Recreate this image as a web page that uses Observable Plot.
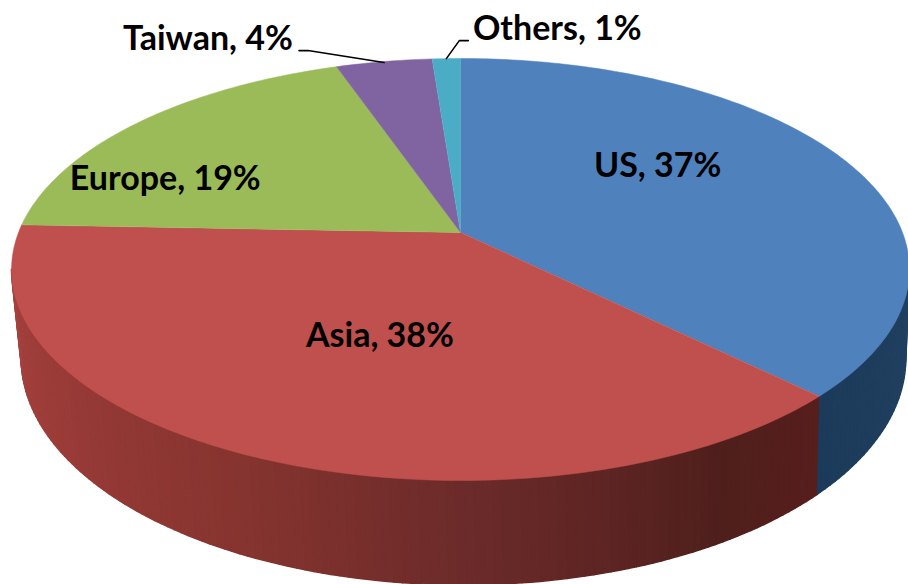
<!DOCTYPE html>
<html>
<head>
<meta charset="utf-8">
<script src="https://cdn.jsdelivr.net/npm/d3@7"></script>
<script src="https://cdn.jsdelivr.net/npm/@observablehq/plot@0.6"></script>
<style>html,body{margin:0;padding:0;background:#fff}svg{display:block}</style>
</head>
<body>
<div id="chart"></div>
<script>
// Data
const categories = ["US", "Asia", "Europe", "Taiwan", "Others"];
const shares = [37.4, 38.2, 19.1, 4.1, 1.2];

// Styles
const topColors = ["#4f81bd", "#c0504d", "#9bbb59", "#8064a2", "#4bacc6"];
const sideStops = {
  US: {a: [95, 135], c: ["#234263", "#1c3a5a"]},
  Asia: {a: [135, 150, 165, 180, 205, 235, 265], c: ["#571e1c", "#4f1f1c", "#5e2523", "#6c2b2a", "#86342f", "#9a3b38", "#a84340"]}
};

// Projection of the tilted disc (perspective), in units of the pie radius
const W = 908, H = 584, R = 442, k = 0.1753, tilt = 0.4627, depth = 86 / R, shrink = 0.985, baseShift = 3 / R;
const rad = d => d * Math.PI / 180;
function rim(deg, r = 1) {
  const u = r * Math.sin(rad(deg)), v = -r * Math.cos(rad(deg)), d = 1 - k * v;
  return [u / d, tilt * v / d];
}
function base(deg) {
  const v = -Math.cos(rad(deg)), d = 1 - k * v, [x, y] = rim(deg);
  return [x * shrink + baseShift, y + depth / d];
}

// Slices from values
let cum = 0;
const total = d3.sum(shares);
const slices = categories.map((name, i) => {
  const a0 = cum / total * 360; cum += shares[i];
  const a1 = cum / total * 360;
  return {name, a0, a1, mid: (a0 + a1) / 2, color: topColors[i], label: `${name}, ${Math.round(shares[i])}%`};
});

const topPts = slices.flatMap((s, i) => {
  const n = Math.max(4, Math.ceil(s.a1 - s.a0));
  const pts = [{z: i, color: s.color, p: [0, 0]}];
  for (let j = 0; j <= n; j++) pts.push({z: i, color: s.color, p: rim(s.a0 + (s.a1 - s.a0) * j / n)});
  return pts;
});

const sidePts = [];
const step = 1;
slices.slice(0, 2).forEach(s => {
  const st = sideStops[s.name];
  const col = d3.scaleLinear().domain(st.a).range(st.c).clamp(true);
  const from = Math.max(s.a0, 100), to = Math.min(s.a1, 260);
  for (let a = from; a < to; a += step) {
    const b = Math.min(a + step, to), color = col((a + b) / 2), z = s.name + a;
    [rim(a), rim(b), base(b), base(a)].forEach(p => sidePts.push({z, color, p}));
  }
});

// Label placement: anchored on each slice's mid-angle, with pixel offsets
const labelPlace = [
  {r: 0.6, dx: -38, dy: -21},
  {r: 0.6, dx: 36, dy: -21},
  {r: 0.8, dx: -33, dy: 37},
  {r: 1, dx: -176, dy: -22},
  {r: 1, dx: 111, dy: -29}
];
const labels = slices.map((s, i) => {
  const {r, dx, dy} = labelPlace[i], [x, y] = rim(s.mid, r);
  return {...s, p: [x + dx / R, y + dy / R]};
});

const leaderOffsets = {
  Taiwan: [[0, 1], [-76, -11], [-85, -11]],
  Others: [[0, 0], [13, -18], [22, -18]]
};
const leaders = slices.filter(s => leaderOffsets[s.name]).flatMap(s => {
  const [x, y] = rim(s.mid);
  return leaderOffsets[s.name].map(([dx, dy]) => ({z: s.name, p: [x + dx / R, y + dy / R]}));
});

const chart = Plot.plot({
  width: W, height: H,
  margin: 0,
  x: {domain: [-460 / R, (W - 460) / R], range: [0, W], axis: null},
  y: {domain: [-232 / R, (H - 232) / R], range: [0, H], axis: null},
  color: {type: "identity"},
  style: {background: "#fff"},
  marks: [
    Plot.line(sidePts, {x: d => d.p[0], y: d => d.p[1], z: "z", fill: "color", stroke: "color", strokeWidth: 1.6}),
    Plot.line(topPts, {x: d => d.p[0], y: d => d.p[1], z: "z", fill: "color", stroke: "color", strokeWidth: 0.5}),
    Plot.line(leaders, {x: d => d.p[0], y: d => d.p[1], z: "z", stroke: "#000", strokeWidth: 1.6, fill: "none"}),
    Plot.text(labels, {
      x: d => d.p[0], y: d => d.p[1],
      text: "label", fill: "#000", fontSize: 34, fontWeight: 700, fontFamily: "Lato", textAnchor: "middle"
    })
  ]
});
document.getElementById("chart").append(chart);
</script>
</body>
</html>
